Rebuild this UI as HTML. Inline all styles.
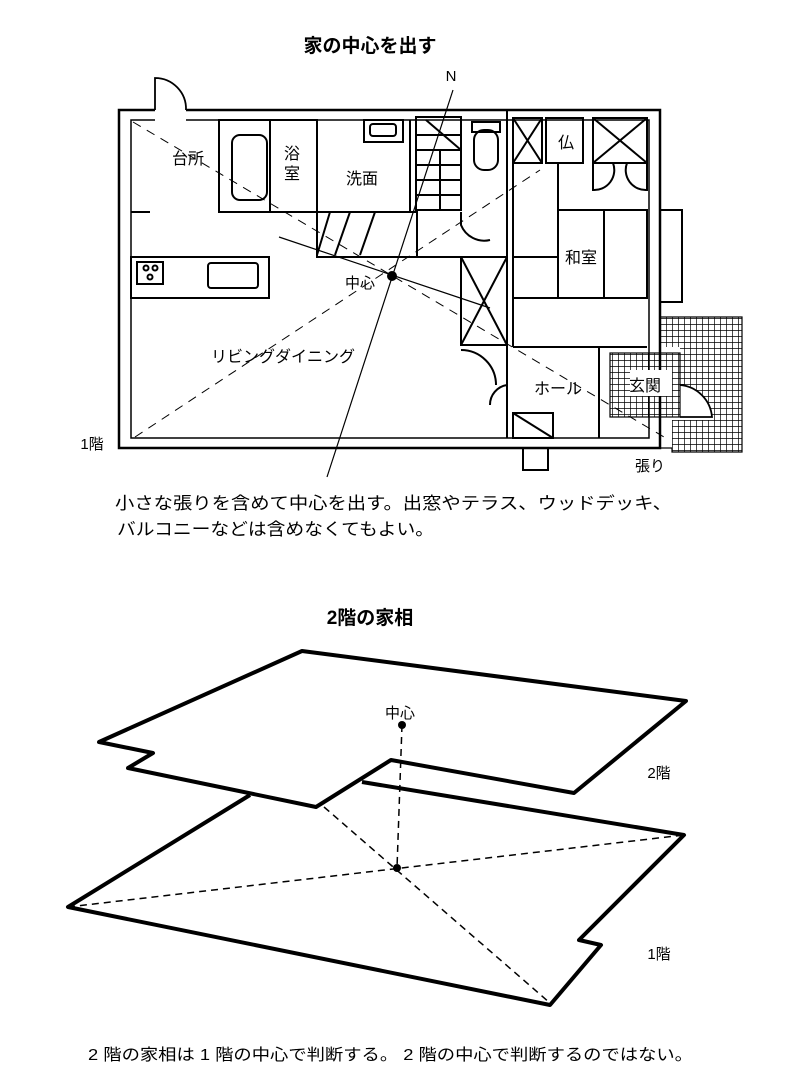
<!DOCTYPE html>
<html><head><meta charset="utf-8"><style>
html,body{margin:0;padding:0;background:#fff}
svg{display:block}
text{font-family:"Liberation Sans","Noto Sans CJK JP",sans-serif;fill:#000}
</style></head><body>
<svg width="800" height="1077" viewBox="0 0 800 1077" xmlns="http://www.w3.org/2000/svg">
<g fill="none" stroke="#000" stroke-width="2">
<!-- outer walls -->
<path d="M155 110 H119 V448 H660 V110 H186" stroke-width="2.5"/>
<path d="M155 120 H131 V438 H649 V120 H186" stroke-width="1.5"/>
<!-- top door -->
<path d="M155 110 V78 A31 31 0 0 1 186 110" stroke-width="1.8"/>
<!-- bath -->
<rect x="219" y="120" width="98" height="92"/>
<rect x="232" y="135" width="35" height="65" rx="8"/>
<line x1="270" y1="120" x2="270" y2="212"/>
<!-- sink -->
<rect x="364" y="120" width="39" height="22"/>
<rect x="370" y="124" width="26" height="12" rx="3"/>
<line x1="317" y1="212" x2="410" y2="212"/>
<line x1="410" y1="120" x2="410" y2="212"/>
<!-- stairs -->
<rect x="416" y="117" width="45" height="93"/>
<path d="M416 135 H461 M416 150 H461 M416 165 H461 M416 180 H461 M416 195 H461 M440 150 V210 M426 120 L461 150"/>
<!-- toilet -->
<rect x="474" y="130" width="24" height="40" rx="10"/>
<rect x="472" y="122" width="28" height="10"/>
<line x1="507" y1="110" x2="507" y2="347"/>
<line x1="513" y1="118" x2="513" y2="347"/>
<!-- closets -->
<rect x="513" y="118" width="29" height="45"/>
<path d="M513 118 L542 163 M542 118 L513 163"/>
<rect x="546" y="118" width="37" height="45"/>
<rect x="593" y="118" width="54" height="45"/>
<path d="M593 118 L647 163 M647 118 L593 163"/>
<path d="M593 163 V190 A20 20 0 0 0 613 163 M647 163 V190 A20 20 0 0 1 627 163"/>
<!-- tatami -->
<rect x="558" y="210" width="89" height="88"/>
<line x1="604" y1="210" x2="604" y2="298"/>
<line x1="513" y1="257" x2="558" y2="257"/>
<line x1="513" y1="298" x2="647" y2="298"/>
<rect x="660" y="210" width="22" height="92"/>
<line x1="513" y1="347" x2="647" y2="347"/>
<line x1="558" y1="163" x2="558" y2="210"/>
<!-- partition / stair-side -->
<rect x="317" y="212" width="100" height="45"/>
<path d="M330 212 L317 255 M350 212 L335 255 M375 212 L360 255"/>
<line x1="417" y1="257" x2="507" y2="257"/>
<path d="M461 212 V225 A25 25 0 0 0 490 240"/>
<!-- X closet -->
<rect x="461" y="257" width="46" height="88"/>
<path d="M461 257 L507 345 M507 257 L461 345"/>
<!-- kitchen counter -->
<rect x="131" y="257" width="138" height="41"/>
<rect x="137" y="262" width="26" height="22"/>
<circle cx="146" cy="268" r="2.5"/><circle cx="155" cy="268" r="2.5"/><circle cx="150" cy="277" r="2.5"/>
<rect x="208" y="263" width="50" height="25" rx="3"/>
<line x1="131" y1="212" x2="150" y2="212"/>
<!-- hall -->
<line x1="507" y1="347" x2="507" y2="438"/>
<path d="M461 350 A35 35 0 0 1 496 385 M507 385 A20 20 0 0 0 490 405"/>
<rect x="513" y="413" width="40" height="25"/>
<path d="M513 413 L553 438"/>
<line x1="599" y1="347" x2="599" y2="438"/>
<!-- tile entrance -->
<g stroke-width="1.2">
<path d="M660 317 H742 V452 H672 V448 H660"/>
<rect x="610" y="353" width="70" height="64"/>
</g>
<path d="M680 385 A35 35 0 0 1 712 417 L680 417" stroke-width="1.8"/>
<!-- haari box -->
<rect x="523" y="448" width="25" height="22"/>
</g>
<!-- tile grids -->
<defs>
<pattern id="g" width="6" height="6" patternUnits="userSpaceOnUse"><path d="M0 0 H6 M0 0 V6" stroke="#000" stroke-width="1.4" fill="none"/></pattern>
</defs>
<path d="M660 317 H742 V452 H672 V420 H712 A35 35 0 0 0 680 385 V347 H660 Z" fill="url(#g)"/>
<rect x="610" y="353" width="70" height="64" fill="url(#g)"/>
<rect x="630" y="370" width="42" height="26" fill="#fff"/>
<!-- center lines -->
<g stroke="#000" fill="none">
<line x1="453" y1="90" x2="327" y2="477" stroke-width="1.2"/>
<line x1="279" y1="237" x2="490" y2="308" stroke-width="1.2"/>
<line x1="133" y1="122" x2="664" y2="437" stroke-width="1" stroke-dasharray="9 7"/>
<line x1="135" y1="437" x2="540" y2="170" stroke-width="1" stroke-dasharray="9 7"/>
</g>
<circle cx="392" cy="276" r="5" fill="#000"/>
<!-- labels top -->
<text x="370" y="52" font-size="19" font-weight="bold" text-anchor="middle">家の中心を出す</text>
<text x="451" y="81" font-size="15" text-anchor="middle">N</text>
<text x="188" y="164" font-size="16" text-anchor="middle">台所</text>
<text x="292" y="159" font-size="16" text-anchor="middle">浴</text>
<text x="292" y="179" font-size="16" text-anchor="middle">室</text>
<text x="362" y="184" font-size="16" text-anchor="middle">洗面</text>
<text x="566" y="148" font-size="16" text-anchor="middle">仏</text>
<text x="581" y="263" font-size="16" text-anchor="middle">和室</text>
<text x="360" y="288" font-size="15" text-anchor="middle">中心</text>
<text x="283" y="362" font-size="16" text-anchor="middle">リビングダイニング</text>
<text x="558" y="394" font-size="16" text-anchor="middle">ホール</text>
<text x="645" y="391" font-size="16" text-anchor="middle">玄関</text>
<text x="92" y="449" font-size="15" text-anchor="middle">1階</text>
<text x="650" y="471" font-size="15" text-anchor="middle">張り</text>
<text x="115" y="509" font-size="17" textLength="557" lengthAdjust="spacingAndGlyphs">小さな張りを含めて中心を出す。出窓やテラス、ウッドデッキ、</text>
<text x="117" y="535" font-size="17" textLength="317" lengthAdjust="spacingAndGlyphs">バルコニーなどは含めなくてもよい。</text>
<!-- bottom -->
<text x="370" y="624" font-size="19" font-weight="bold" text-anchor="middle">2階の家相</text>
<g fill="none" stroke="#000" stroke-linejoin="round">
<path d="M250 795 L68 907 L550 1005 L601 945 L579 940 L684 835 L362 782" stroke-width="4"/>
<path d="M302 651 L686 701 L574 793 L391 760 L316 807 L128 768 L153 753 L99 742 Z" fill="#fff" stroke-width="4"/>
<line x1="68" y1="907" x2="684" y2="835" stroke-width="1.5" stroke-dasharray="7 5"/>
<line x1="324" y1="807" x2="550" y2="1003" stroke-width="1.5" stroke-dasharray="7 5"/>
<line x1="402" y1="725" x2="397" y2="868" stroke-width="1.5" stroke-dasharray="7 5"/>
</g>
<circle cx="402" cy="725" r="4" fill="#000"/>
<circle cx="397" cy="868" r="4" fill="#000"/>
<text x="400" y="718" font-size="15" text-anchor="middle">中心</text>
<text x="659" y="778" font-size="15" text-anchor="middle">2階</text>
<text x="659" y="959" font-size="15" text-anchor="middle">1階</text>
<text x="88" y="1060" font-size="16" textLength="605" lengthAdjust="spacingAndGlyphs">2 階の家相は 1 階の中心で判断する。 2 階の中心で判断するのではない。</text>
</svg>
</body></html>
